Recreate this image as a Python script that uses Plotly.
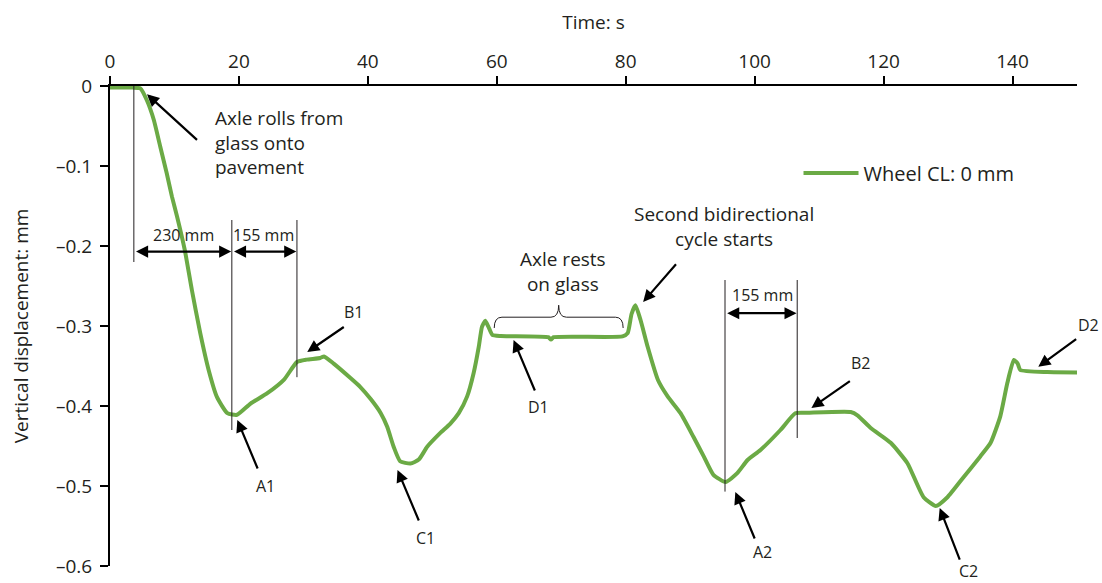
import plotly.graph_objects as go

# Vertical displacement of the wheel centre line over time
time_s = [0, 3.5, 4.7, 5.7, 6.8, 7.8, 8.8, 9.6, 10.4, 11.6, 12.7, 14.0, 15.3, 16.6,
          18.2, 19.7, 21.8, 24.4, 27.0, 29.0, 30.5, 32.6, 33.2, 34.7, 37.3, 38.8,
          40.5, 42.0, 43.0, 44.0, 45.0, 46.6, 47.9, 49.2, 51.2, 52.8, 54.1, 55.4,
          56.4, 57.2, 57.7, 58.2, 58.7, 59.3, 60.6, 68.0, 68.4, 68.8, 79.5, 80.3,
          80.9, 81.5, 82.3, 83.4, 85.0, 86.5, 88.5, 90.5, 92.1, 93.6, 95.5, 97.3,
          98.9, 100.9, 104.0, 106.3, 108.2, 114.9, 116.0, 118.0, 121.1, 123.7,
          126.2, 128.1, 129.9, 132.4, 135.0, 136.6, 138.1, 139.2, 140.2, 140.8,
          141.2, 145.4, 150.0]
displacement_mm = [-0.002, -0.002, -0.003, -0.0175, -0.0425, -0.076, -0.109, -0.138,
                   -0.163, -0.205, -0.255, -0.309, -0.355, -0.389, -0.409, -0.411,
                   -0.397, -0.384, -0.367, -0.345, -0.342, -0.340, -0.338, -0.347,
                   -0.365, -0.376, -0.392, -0.409, -0.426, -0.451, -0.469, -0.472,
                   -0.467, -0.451, -0.434, -0.422, -0.409, -0.388, -0.359, -0.326,
                   -0.301, -0.2935, -0.301, -0.311, -0.3125, -0.314, -0.317, -0.314,
                   -0.313, -0.309, -0.285, -0.274, -0.2925, -0.326, -0.3675, -0.388,
                   -0.409, -0.4385, -0.463, -0.486, -0.495, -0.484, -0.4675, -0.455,
                   -0.430, -0.409, -0.4085, -0.4075, -0.412, -0.4275, -0.446, -0.4715,
                   -0.514, -0.525, -0.514, -0.489, -0.463, -0.446, -0.413, -0.371,
                   -0.3425, -0.347, -0.355, -0.3575, -0.358]

x_ticks = [0, 20, 40, 60, 80, 100, 120, 140]
y_ticks = [0, -0.1, -0.2, -0.3, -0.4, -0.5, -0.6]
y_ticktext = ["0", "\u20130.1", "\u20130.2", "\u20130.3", "\u20130.4", "\u20130.5", "\u20130.6"]

X_RANGE = [0, 150]
Y_RANGE = [-0.6, 0]

GREEN = "#6BAA45"
INK = "#231F20"
FONT = "Open Sans"


def to_paper(x, y):
    """Map data coordinates to paper fractions (for labels beyond the axes)."""
    return ((x - X_RANGE[0]) / (X_RANGE[1] - X_RANGE[0]),
            (y - Y_RANGE[0]) / (Y_RANGE[1] - Y_RANGE[0]))


fig = go.Figure()
fig.add_trace(go.Scatter(
    x=time_s, y=displacement_mm, mode="lines", name="Wheel CL: 0 mm",
    line=dict(color=GREEN, width=4, shape="spline", smoothing=0.5),
))

# Thin vertical reference lines bounding the measured distances
ref_lines = [(3.7, 0, -0.22), (18.9, -0.1675, -0.43), (29.0, -0.1675, -0.364),
             (95.4, -0.2425, -0.507), (106.6, -0.2425, -0.44)]
for xv, y0, y1 in ref_lines:
    fig.add_shape(type="line", xref="x", yref="y", x0=xv, x1=xv, y0=y0, y1=y1,
                  line=dict(color=INK, width=1))

# Curly brace over the resting period
bx0, bx1, by_end, by_mid, by_tip = 59.6, 79.6, -0.3025, -0.289, -0.274
bm = (bx0 + bx1) / 2
brace = (f"M {bx0},{by_end} Q {bx0},{by_mid} {bx0+1.2},{by_mid} "
         f"L {bm-1.2},{by_mid} Q {bm},{by_mid} {bm},{by_tip} "
         f"Q {bm},{by_mid} {bm+1.2},{by_mid} L {bx1-1.2},{by_mid} "
         f"Q {bx1},{by_mid} {bx1},{by_end}")
fig.add_shape(type="path", xref="x", yref="y", path=brace,
              line=dict(color=INK, width=1))

# Pointer arrows: (tip x, tip y, tail x, tail y)
pointers = [(5.74, -0.0104, 13.73, -0.069),
            (30.6, -0.3325, 36.5, -0.300),
            (19.75, -0.4175, 23.0, -0.480),
            (44.6, -0.480, 48.0, -0.545),
            (62.6, -0.3175, 66.0, -0.3825),
            (82.7, -0.270, 88.0, -0.221),
            (97.0, -0.5075, 100.1, -0.5675),
            (108.8, -0.4025, 115.0, -0.3675),
            (128.7, -0.5275, 131.9, -0.594),
            (144.0, -0.351, 150.1, -0.315)]
for tx, ty, sx, sy in pointers:
    fig.add_annotation(x=tx, y=ty, ax=sx, ay=sy, xref="x", yref="y",
                       axref="x", ayref="y", text="", showarrow=True,
                       arrowhead=2, arrowsize=1.1, arrowwidth=2.2, arrowcolor="black")

# Distance arrows: (x start, x end, y)
spans = [(3.8, 18.8, -0.207), (19.0, 28.9, -0.207), (95.5, 106.5, -0.284)]
for xs, xe, yv in spans:
    fig.add_annotation(x=xe, y=yv, ax=xs, ay=yv, xref="x", yref="y",
                       axref="x", ayref="y", text="", showarrow=True,
                       arrowhead=2, startarrowhead=2, arrowside="end+start",
                       arrowsize=1.1, startarrowsize=1.1, arrowwidth=2.2,
                       arrowcolor="black")

# Labels: (x, y, text, size, align)
labels = [(15.9, -0.071, "Axle rolls from<br>glass onto<br>pavement", 19, "left"),
          (70.3, -0.232, "Axle rests<br>on glass", 19, "center"),
          (95.2, -0.176, "Second bidirectional<br>cycle starts", 19, "center"),
          (11.4, -0.186, "230 mm", 16, "center"),
          (23.8, -0.186, "155 mm", 16, "center"),
          (101.2, -0.261, "155 mm", 16, "center"),
          (37.8, -0.2825, "B1", 16, "center"),
          (24.1, -0.500, "A1", 16, "center"),
          (48.9, -0.565, "C1", 16, "center"),
          (66.5, -0.401, "D1", 16, "center"),
          (101.2, -0.5825, "A2", 16, "center"),
          (116.4, -0.346, "B2", 16, "center"),
          (133.2, -0.606, "C2", 16, "center"),
          (151.8, -0.299, "D2", 16, "center")]
for lx, ly, txt, size, align in labels:
    px, py = to_paper(lx, ly)
    fig.add_annotation(x=px, y=py, xref="paper", yref="paper", text=txt,
                       showarrow=False, align=align,
                       xanchor="left" if align == "left" else "center",
                       yanchor="middle", font=dict(family=FONT, size=size, color=INK))

fig.update_layout(
    width=1102, height=583,
    margin=dict(l=110, r=25, t=86, b=17),
    paper_bgcolor="white", plot_bgcolor="white",
    font=dict(family=FONT, size=19, color=INK),
    showlegend=True,
    legend=dict(x=0.712, y=0.819, xanchor="left", yanchor="middle",
                bgcolor="rgba(0,0,0,0)", font=dict(size=20), itemwidth=55),
    xaxis=dict(
        side="top", range=X_RANGE, tickvals=x_ticks, automargin=False,
        ticks="outside", ticklen=8, tickwidth=2, tickcolor="black",
        showline=True, linecolor="black", linewidth=2,
        showgrid=False, zeroline=False,
        title=dict(text="Time: s", standoff=14, font=dict(size=19)),
    ),
    yaxis=dict(
        range=Y_RANGE, tickvals=y_ticks, ticktext=y_ticktext, automargin=False,
        ticks="outside", ticklen=8, tickwidth=2, tickcolor="black",
        ticklabelstandoff=4,
        showline=True, linecolor="black", linewidth=2,
        showgrid=False, zeroline=False,
        title=dict(text="Vertical displacement: mm", standoff=22, font=dict(size=19)),
    ),
)

fig.write_html("out.html")
